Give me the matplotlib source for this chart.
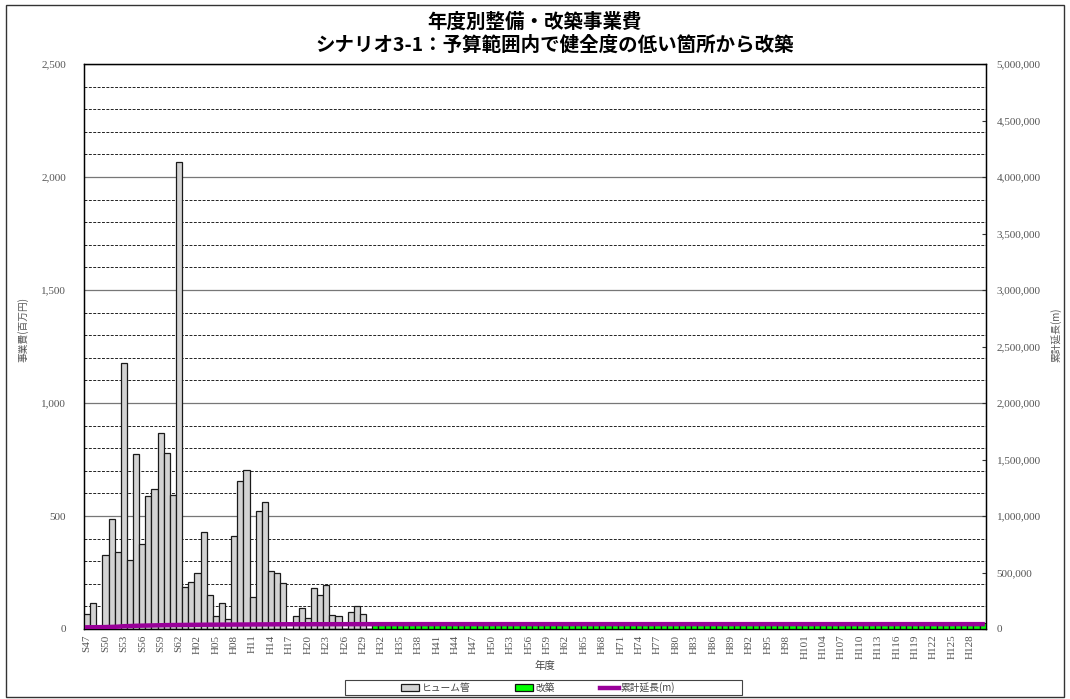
import numpy as np
import matplotlib.pyplot as plt
from matplotlib.patches import Rectangle
from matplotlib.ticker import MultipleLocator, FuncFormatter

plt.rcParams['font.family'] = ['Noto Sans CJK JP', 'DejaVu Sans']

# fiscal years: Showa 47-63, then Heisei 1-130
years = [f"S{n}" for n in range(47, 64)] + [f"H{n:02d}" for n in range(1, 131)]

# ヒューム管 construction cost (million yen), S47 .. H30
hume = [66, 116, 0, 327, 485, 339, 1178, 304, 773, 377, 588, 618, 866, 777, 593,
        2065, 186,
        207, 246, 431, 149, 59, 114, 43, 412, 656, 704, 143, 522, 561, 258, 249,
        205, 0, 58, 92, 47, 181, 149, 193, 61, 59, 0, 74, 102, 66, 0]
hume = hume + [0] * 100

# 改築 renewal cost (million yen), flat from H31 onward
kaichiku = [0] * 47 + [26] * 100

# 累計延長 cumulative length (m)
cum_len = [15000, 15500, 15500, 17000, 19000, 20500, 25000, 26000, 28500, 29500,
           31000, 32000, 33500, 34500, 35200, 36500, 36800,
           37100, 37400, 37900, 38100, 38200, 38300, 38350, 38800, 39400, 40000,
           40200, 40700, 41200, 41500, 41700, 41900, 41900, 42000, 42100, 42150,
           42300, 42450, 42600, 42650, 42700, 42700, 42800, 42900, 43000, 43000]
cum_len = cum_len + [43000] * 100

serif = 'Liberation Serif'
tick_col = '#555555'

fig = plt.figure(figsize=(10.7, 6.99), dpi=100)
ax = fig.add_axes([84 / 1070, 1 - 629 / 699, (985.7 - 84) / 1070, (629 - 64) / 699])

x = np.arange(len(years))
b1 = ax.bar(x, hume, width=1.0, color='#d3d3d3', edgecolor='#1a1a1a', linewidth=0.9,
            label='ヒューム管', zorder=3)
b2 = ax.bar(x, kaichiku, width=1.0, color='#00ff00', edgecolor='#111111', linewidth=0.9,
            label='改築', zorder=3)

ax.set_xlim(-0.5, len(years) - 0.5)
ax.set_ylim(0, 2500)
ax.yaxis.set_major_locator(MultipleLocator(500))
ax.yaxis.set_minor_locator(MultipleLocator(100))
ax.yaxis.set_major_formatter(FuncFormatter(lambda v, p: f"{int(v):,}"))
ax.grid(which='major', axis='y', color='#777777', linewidth=0.9, linestyle='-', zorder=0)
ax.grid(which='minor', axis='y', color='#222222', linewidth=0.7,
        linestyle=(0, (3, 1.5)), zorder=0)
ax.set_axisbelow(True)

ax.set_xticks(x[::3])
ax.set_xticklabels(years[::3], rotation=90, fontsize=8, color=tick_col, family=serif)
ax.tick_params(axis='x', length=0, pad=4)
ax.tick_params(axis='y', which='both', length=0, pad=13, labelsize=8, labelcolor=tick_col)
for lbl in ax.get_yticklabels():
    lbl.set_family(serif)
for sp in ax.spines.values():
    sp.set_color('black')
    sp.set_linewidth(1.0)

ax.set_xlabel('年度', fontsize=7.5, color='#444444', va='center')
ax.xaxis.set_label_coords(0.511, -0.066)
ax.set_ylabel('事業費(百万円)', fontsize=7, color='#555555')
ax.yaxis.set_label_coords(-0.062, 0.53)

# cumulative length on the secondary axis
ax2 = ax.twinx()
l1, = ax2.plot(x, cum_len, color='#990099', linewidth=3.2, label='累計延長(m)', zorder=4)
ax2.set_ylim(0, 5000000)
ax2.yaxis.set_major_locator(MultipleLocator(500000))
ax2.yaxis.set_major_formatter(FuncFormatter(lambda v, p: f"{int(v):,}"))
ax2.tick_params(axis='y', direction='in', length=3, pad=8, labelsize=8,
                labelcolor=tick_col, color='#333333')
for lbl in ax2.get_yticklabels():
    lbl.set_family(serif)
ax2.set_ylabel('累計延長(m)', fontsize=7, color='#555555', rotation=90)
ax2.yaxis.set_label_coords(1.072, 0.52)

fig.text(535 / 1070, 1 - 22 / 699, '年度別整備・改築事業費', ha='center', va='center',
         fontsize=14, fontweight='bold')
fig.text(555 / 1070, 1 - 45 / 699, 'シナリオ3-1：予算範囲内で健全度の低い箇所から改築',
         ha='center', va='center', fontsize=14, fontweight='bold')

leg = fig.legend([b1, b2, l1], ['ヒューム管', '改築', '累計延長(m)'], ncol=3,
                 loc='center', bbox_to_anchor=(538 / 1070, 1 - 687.5 / 699),
                 fontsize=7, frameon=False, handlelength=1.9, handleheight=0.6,
                 handletextpad=0.25, columnspacing=4.6, borderaxespad=0)
for t in leg.get_texts():
    t.set_color('#444444')

# legend frame and outer chart frame
fig.patches.append(Rectangle((345 / 1070, 1 - 695 / 699), 397 / 1070, 15 / 699,
                             transform=fig.transFigure, fill=False,
                             edgecolor='#444444', linewidth=0.8))
fig.patches.append(Rectangle((6 / 1070, 1 - 697 / 699), 1058 / 1070, 692 / 699,
                             transform=fig.transFigure, fill=False,
                             edgecolor='#333333', linewidth=1.0))

fig.savefig('out.png', dpi=100)
